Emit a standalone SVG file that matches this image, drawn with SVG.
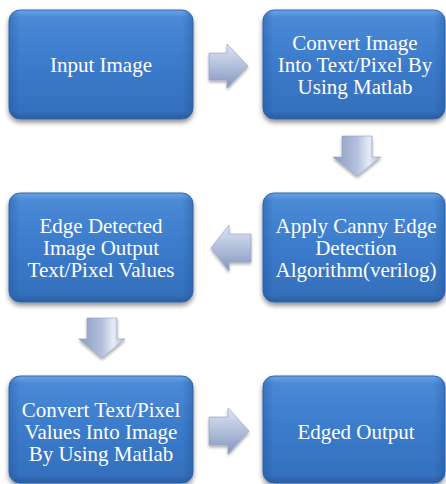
<svg xmlns="http://www.w3.org/2000/svg" width="446" height="484" viewBox="0 0 446 484">
<defs>
<linearGradient id="boxg" x1="0" y1="0" x2="0" y2="1">
<stop offset="0" stop-color="#6aa3e6"/>
<stop offset="0.07" stop-color="#4a89d6"/>
<stop offset="0.5" stop-color="#3b7bcb"/>
<stop offset="0.93" stop-color="#3570bd"/>
<stop offset="1" stop-color="#2a5c9e"/>
</linearGradient>
<linearGradient id="boxside" x1="0" y1="0" x2="1" y2="0">
<stop offset="0" stop-color="#1f4f8f" stop-opacity="0.35"/>
<stop offset="0.06" stop-color="#1f4f8f" stop-opacity="0"/>
<stop offset="0.94" stop-color="#1f4f8f" stop-opacity="0"/>
<stop offset="1" stop-color="#1f4f8f" stop-opacity="0.35"/>
</linearGradient>
<linearGradient id="arrg" x1="0" y1="0" x2="0" y2="1">
<stop offset="0" stop-color="#dde4f2"/>
<stop offset="0.45" stop-color="#b6c3de"/>
<stop offset="1" stop-color="#8396bd"/>
</linearGradient>
<linearGradient id="arrgv" x1="0" y1="0" x2="1" y2="0">
<stop offset="0" stop-color="#8b9dc2"/>
<stop offset="0.5" stop-color="#b3c0dc"/>
<stop offset="0.75" stop-color="#e6ebf6"/>
<stop offset="1" stop-color="#a9b7d6"/>
</linearGradient>
<filter id="sh" x="-10%" y="-10%" width="120%" height="130%">
<feGaussianBlur in="SourceAlpha" stdDeviation="2.5"/>
<feOffset dx="0" dy="3" result="b"/>
<feComponentTransfer><feFuncA type="linear" slope="0.45"/></feComponentTransfer>
<feMerge><feMergeNode/><feMergeNode in="SourceGraphic"/></feMerge>
</filter>
<filter id="ash" x="-20%" y="-20%" width="140%" height="150%">
<feGaussianBlur in="SourceAlpha" stdDeviation="1.5"/>
<feOffset dx="0" dy="2"/>
<feComponentTransfer><feFuncA type="linear" slope="0.35"/></feComponentTransfer>
<feMerge><feMergeNode/><feMergeNode in="SourceGraphic"/></feMerge>
</filter>
</defs>
<style>
.box { fill: url(#boxg); stroke: #3168b0; stroke-width: 1; }
.side { fill: url(#boxside); }
.lbl { font-family: "Liberation Serif", "Times New Roman", serif; font-size: 21px; fill: #ffffff; text-anchor: middle; }
.arr { fill: url(#arrg); stroke: #8fa0c4; stroke-width: 0.6; }
.arrv { fill: url(#arrgv); stroke: #8fa0c4; stroke-width: 0.6; }
</style>
<rect width="446" height="484" fill="#ffffff"/>

<g id="connectors">
<polygon class="arr" filter="url(#ash)" points="209,53 227,53 227,44 248,66 227,88 227,80 209,80"/>
<polygon class="arrv" filter="url(#ash)" points="342,136 372,136 372,157 381,157 357,176 333,157 342,157"/>
<polygon class="arr" filter="url(#ash)" points="251,234 229,234 229,225 211,248 229,271 229,262 251,262"/>
<polygon class="arrv" filter="url(#ash)" points="87,318 117,318 117,339 125,339 102,358 79,339 87,339"/>
<polygon class="arr" filter="url(#ash)" points="209,417 228,417 228,408 249,431 228,454 228,445 209,445"/>
</g>

<g id="n1">
<rect class="box" filter="url(#sh)" x="9" y="10" width="184" height="109" rx="11"/>
<rect class="side" x="9" y="10" width="184" height="109" rx="11"/>
<text class="lbl" x="101" y="72">Input Image</text>
</g>
<g id="n2">
<rect class="box" filter="url(#sh)" x="263" y="10" width="182" height="109" rx="11"/>
<rect class="side" x="263" y="10" width="182" height="109" rx="11"/>
<text class="lbl" x="355" y="50">Convert Image</text>
<text class="lbl" x="355" y="72">Into Text/Pixel By</text>
<text class="lbl" x="355" y="94">Using Matlab</text>
</g>
<g id="n3">
<rect class="box" filter="url(#sh)" x="263" y="193" width="182" height="109" rx="11"/>
<rect class="side" x="263" y="193" width="182" height="109" rx="11"/>
<text class="lbl" x="356" y="233">Apply Canny Edge</text>
<text class="lbl" x="356" y="255">Detection</text>
<text class="lbl" x="356" y="277">Algorithm(verilog)</text>
</g>
<g id="n4">
<rect class="box" filter="url(#sh)" x="9" y="193" width="184" height="109" rx="11"/>
<rect class="side" x="9" y="193" width="184" height="109" rx="11"/>
<text class="lbl" x="101" y="233">Edge Detected</text>
<text class="lbl" x="101" y="255">Image Output</text>
<text class="lbl" x="101" y="277">Text/Pixel Values</text>
</g>
<g id="n5">
<rect class="box" filter="url(#sh)" x="9" y="376" width="184" height="107" rx="11"/>
<rect class="side" x="9" y="376" width="184" height="107" rx="11"/>
<text class="lbl" x="101" y="417">Convert Text/Pixel</text>
<text class="lbl" x="101" y="439">Values Into Image</text>
<text class="lbl" x="101" y="461">By Using Matlab</text>
</g>
<g id="n6">
<rect class="box" filter="url(#sh)" x="263" y="376" width="182" height="107" rx="11"/>
<rect class="side" x="263" y="376" width="182" height="107" rx="11"/>
<text class="lbl" x="356" y="439">Edged Output</text>
</g>
</svg>
